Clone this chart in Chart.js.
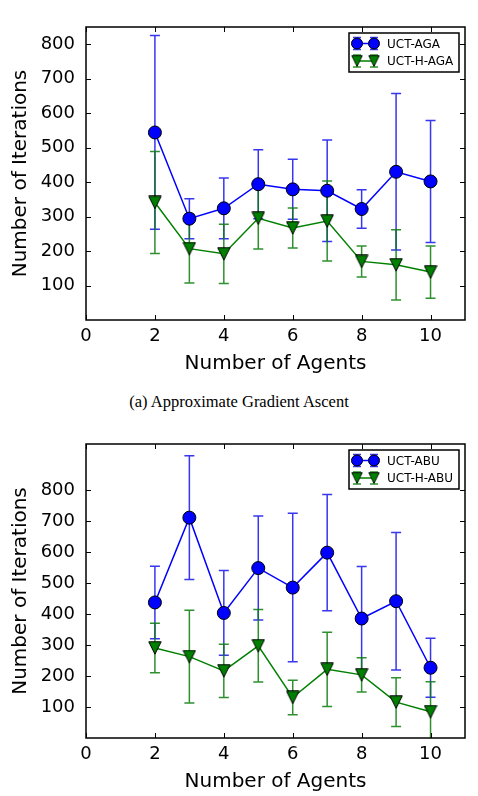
<!DOCTYPE html>
<html>
<head>
<meta charset="utf-8">
<script src="https://cdn.jsdelivr.net/npm/chart.js@4.4.0/dist/chart.umd.min.js"></script>
<style>
    body { margin: 0; background: #fff; }
    #page { position: relative; width: 478px; height: 796px; background: #fff; overflow: hidden; }
    .chart-box { position: absolute; left: 0; width: 478px; }
    #caption {
        position: absolute; left: 0; width: 478px; top: 393px; line-height: 18px;
        text-align: center; font-family: "Liberation Serif", "Times New Roman", serif;
        font-size: 16.5px; color: #000;
    }
</style>
</head>
<body>
<div id="page">
    <div class="chart-box" style="top:0;height:385px"><canvas id="chartA"></canvas></div>
    <div id="caption">(a) Approximate Gradient Ascent</div>
    <div class="chart-box" style="top:420px;height:376px"><canvas id="chartB"></canvas></div>
</div>
<script>
// Data
const agents = [2, 3, 4, 5, 6, 7, 8, 9, 10];
const xTickValues = [0, 2, 4, 6, 8, 10];
const yTickValues = [100, 200, 300, 400, 500, 600, 700, 800];

// (a) Approximate Gradient Ascent
const uctAga = [544, 294, 324, 394, 379, 375, 322, 430, 402];
const uctAgaErr = [281, 58, 88, 100, 87, 147, 56, 227, 177];
const uctHAga = [341, 207, 192, 295, 267, 287, 170, 160, 139];
const uctHAgaErr = [148, 100, 86, 89, 58, 116, 45, 102, 76];

// second panel
const uctAbu = [438, 712, 404, 549, 486, 599, 386, 442, 227];
const uctAbuErr = [117, 200, 137, 168, 240, 188, 168, 222, 95];
const uctHAbu = [291, 263, 217, 298, 131, 222, 204, 116, 85];
const uctHAbuErr = [80, 150, 86, 117, 56, 120, 55, 79, 97];

const BLUE = "#0000ff";
const GREEN = "#008000";
const FONT = "'DejaVu Sans', 'Bitstream Vera Sans', sans-serif";

// matplotlib style "v" marker as an image
const makeTriangle = (fill) => {
    const c = document.createElement("canvas");
    c.width = 14; c.height = 14;
    const g = c.getContext("2d");
    g.beginPath();
    g.moveTo(0.8, 0.8);
    g.lineTo(13.2, 0.8);
    g.lineTo(7, 13.2);
    g.closePath();
    g.fillStyle = fill;
    g.fill();
    g.strokeStyle = "#000";
    g.lineWidth = 1;
    g.stroke();
    return c;
};
const triGreen = makeTriangle(GREEN);

// Error bars drawn under the lines and markers
const errorBars = {
    id: "errorBars",
    beforeDatasetsDraw(chart) {
        const { ctx, chartArea, scales: { x, y } } = chart;
        ctx.save();
        ctx.beginPath();
        ctx.rect(chartArea.left, chartArea.top, chartArea.width, chartArea.height);
        ctx.clip();
        chart.data.datasets.forEach((ds) => {
            ctx.strokeStyle = ds.errColor;
            ctx.lineWidth = 1.5;
            ds.data.forEach((p, i) => {
                const px = x.getPixelForValue(p.x);
                const top = y.getPixelForValue(p.y + ds.err[i]);
                const bot = y.getPixelForValue(p.y - ds.err[i]);
                ctx.beginPath();
                ctx.moveTo(px, top); ctx.lineTo(px, bot);
                ctx.moveTo(px - 5, top); ctx.lineTo(px + 5, top);
                ctx.moveTo(px - 5, bot); ctx.lineTo(px + 5, bot);
                ctx.stroke();
            });
        });
        ctx.restore();
    }
};

// Box around the plot with inward ticks on all sides
const frame = {
    id: "frame",
    afterDatasetsDraw(chart) {
        const { ctx, chartArea: a, scales: { x, y } } = chart;
        ctx.save();
        ctx.strokeStyle = "#000";
        ctx.lineWidth = 1;
        ctx.beginPath();
        xTickValues.forEach((v) => {
            const px = Math.round(x.getPixelForValue(v)) + 0.5;
            ctx.moveTo(px, a.bottom); ctx.lineTo(px, a.bottom - 5);
            ctx.moveTo(px, a.top); ctx.lineTo(px, a.top + 5);
        });
        yTickValues.forEach((v) => {
            const py = Math.round(y.getPixelForValue(v)) + 0.5;
            ctx.moveTo(a.left, py); ctx.lineTo(a.left + 5, py);
            ctx.moveTo(a.right, py); ctx.lineTo(a.right - 5, py);
        });
        ctx.stroke();
        ctx.lineWidth = 1.5;
        ctx.strokeRect(a.left, a.top, a.width, a.height);
        ctx.restore();
    }
};

// Legend box in the upper right corner
const boxLegend = {
    id: "boxLegend",
    afterDraw(chart) {
        const { ctx, chartArea } = chart;
        const w = 110, h = 39;
        const left = chartArea.right - 6 - w;
        const top = chartArea.top + 6;
        ctx.save();
        ctx.fillStyle = "#fff";
        ctx.fillRect(left, top, w, h);
        ctx.strokeStyle = "#000";
        ctx.lineWidth = 1.5;
        ctx.strokeRect(left, top, w, h);
        chart.data.datasets.forEach((ds, i) => {
            const cy = top + 10.5 + i * 17.5;
            const xs = [left + 8, left + 25];
            // error caps
            ctx.strokeStyle = ds.errColor;
            ctx.lineWidth = 1.5;
            ctx.beginPath();
            xs.forEach((mx) => {
                ctx.moveTo(mx, cy - 6); ctx.lineTo(mx, cy + 6);
                ctx.moveTo(mx - 4, cy - 6); ctx.lineTo(mx + 4, cy - 6);
                ctx.moveTo(mx - 4, cy + 6); ctx.lineTo(mx + 4, cy + 6);
            });
            ctx.stroke();
            // line
            ctx.strokeStyle = ds.borderColor;
            ctx.beginPath();
            ctx.moveTo(xs[0], cy); ctx.lineTo(xs[1], cy);
            ctx.stroke();
            // markers
            xs.forEach((mx) => {
                if (ds.pointStyle === "circle") {
                    ctx.beginPath();
                    ctx.arc(mx, cy, 5.5, 0, Math.PI * 2);
                    ctx.fillStyle = ds.pointBackgroundColor;
                    ctx.fill();
                    ctx.lineWidth = 1;
                    ctx.strokeStyle = "#000";
                    ctx.stroke();
                } else {
                    ctx.drawImage(ds.pointStyle, mx - 6, cy - 6, 12, 12);
                }
            });
            ctx.fillStyle = "#000";
            ctx.font = "12px " + FONT;
            ctx.textBaseline = "middle";
            ctx.fillText(ds.label, left + 38, cy + 1);
        });
        ctx.restore();
    }
};

const makeChart = (canvasId, cfg) => {
    const series = (label, values, errs, color, errColor, marker) => ({
        label: label,
        data: agents.map((a, i) => ({ x: a, y: values[i] })),
        err: errs,
        errColor: errColor,
        borderColor: color,
        borderWidth: 1.5,
        pointStyle: marker,
        pointRadius: 6.5,
        pointBackgroundColor: color,
        pointBorderColor: "#000",
        pointBorderWidth: 1,
        tension: 0,
    });

    return new Chart(document.getElementById(canvasId), {
        type: "line",
        data: {
            datasets: [
                series(cfg.labels[0], cfg.a, cfg.aErr, BLUE, "rgba(20,20,235,0.85)", "circle"),
                series(cfg.labels[1], cfg.b, cfg.bErr, GREEN, "rgba(10,125,10,0.85)", triGreen),
            ]
        },
        options: {
            responsive: true,
            maintainAspectRatio: false,
            animation: false,
            layout: { padding: { top: cfg.padTop, right: 13, left: 0, bottom: 0 } },
            plugins: { legend: { display: false }, tooltip: { enabled: false } },
            scales: {
                x: {
                    type: "linear",
                    min: 0,
                    max: 11,
                    afterBuildTicks: (scale) => { scale.ticks = xTickValues.map(v => ({ value: v })); },
                    afterFit: (scale) => { scale.height = cfg.xHeight; },
                    grid: { display: false, drawTicks: false },
                    border: { display: false },
                    ticks: { color: "#000", font: { family: FONT, size: 18 }, padding: 6, maxRotation: 0 },
                    title: {
                        display: true, text: "Number of Agents", color: "#000",
                        font: { family: FONT, size: 20 }, padding: { top: 0, bottom: cfg.xTitlePad }
                    }
                },
                y: {
                    min: 0,
                    max: cfg.yMax,
                    afterBuildTicks: (scale) => { scale.ticks = yTickValues.map(v => ({ value: v })); },
                    afterFit: (scale) => { scale.width = 86; },
                    grid: { display: false, drawTicks: false },
                    border: { display: false },
                    ticks: { color: "#000", font: { family: FONT, size: 18 }, padding: 11 },
                    title: {
                        display: true, text: "Number of Iterations", color: "#000",
                        font: { family: FONT, size: 20 }, padding: { top: 9, bottom: 0 }
                    }
                }
            }
        },
        plugins: [errorBars, frame, boxLegend]
    });
};

makeChart("chartA", {
    labels: ["UCT-AGA", "UCT-H-AGA"],
    a: uctAga, aErr: uctAgaErr, b: uctHAga, bErr: uctHAgaErr,
    yMax: 850, padTop: 27, xHeight: 65, xTitlePad: 9
});

makeChart("chartB", {
    labels: ["UCT-ABU", "UCT-H-ABU"],
    a: uctAbu, aErr: uctAbuErr, b: uctHAbu, bErr: uctHAbuErr,
    yMax: 950, padTop: 24, xHeight: 58, xTitlePad: 2
});
</script>
</body>
</html>
